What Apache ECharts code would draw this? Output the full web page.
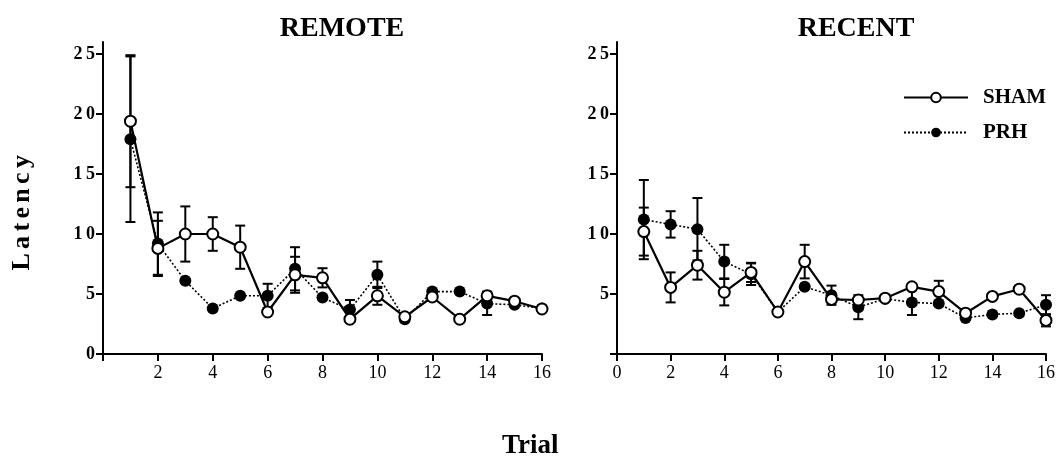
<!DOCTYPE html>
<html>
<head>
<meta charset="utf-8">
<script src="https://cdn.jsdelivr.net/npm/echarts@6/dist/echarts.min.js"></script>
<style>
  html, body { margin: 0; padding: 0; background: #fff; }
  #chart { width: 1059px; height: 466px; }
</style>
</head>
<body>
<div id="chart"></div>
<script>
// trials on the x axis
const trials = [1, 2, 3, 4, 5, 6, 7, 8, 9, 10, 11, 12, 13, 14, 15, 16];

// REMOTE panel (mean latency, s.e.m.)
const remoteSham    = [19.4, 8.8, 10.0, 10.0, 8.9, 3.5, 6.6, 6.35, 2.9, 4.85, 3.1, 4.75, 2.9, 4.85, 4.4, 3.75];
const remoteShamErr = [5.5, 2.3, 2.3, 1.4, 1.8, 0, 1.5, 0.8, 0, 0.75, 0, 0, 0, 0.35, 0, 0];
const remotePrh     = [17.9, 9.2, 6.1, 3.8, 4.85, 4.85, 7.1, 4.7, 3.7, 6.6, 2.9, 5.2, 5.2, 4.2, 4.1, 3.8];
const remotePrhErr  = [6.9, 2.6, 0, 0, 0, 1.0, 1.8, 0, 0.8, 1.1, 0, 0, 0, 0.95, 0, 0];

// RECENT panel
const recentSham    = [10.2, 5.55, 7.4, 5.15, 6.8, 3.5, 7.7, 4.55, 4.5, 4.65, 5.6, 5.2, 3.4, 4.8, 5.4, 2.8];
const recentShamErr = [2.0, 1.25, 1.2, 1.1, 0.8, 0, 1.4, 0, 0, 0, 0, 0.9, 0, 0, 0, 0.5];
const recentPrh     = [11.2, 10.8, 10.4, 7.7, 6.65, 3.5, 5.6, 4.9, 3.9, 4.6, 4.3, 4.2, 3.0, 3.3, 3.4, 4.1];
const recentPrhErr  = [3.3, 1.1, 2.6, 1.4, 0.9, 0, 0, 0.8, 1.0, 0, 1.05, 0, 0, 0, 0, 0.8];

const yTicks = [0, 5, 10, 15, 20, 25];
const panelTitles = ['REMOTE', 'RECENT'];

const serif = '"Liberation Serif", "DejaVu Serif", serif';
const thin = '\u2009';
const hair = '\u200A';

const chart = echarts.init(document.getElementById('chart'));

const pairs = (ys) => trials.map((t, i) => [t, ys[i]]);
const errPairs = (ys, es) => trials.map((t, i) => [t, ys[i], es[i]]);

function renderErr(params, api) {
  const x = api.value(0), y = api.value(1), e = api.value(2);
  if (!e) return null;
  const hi = api.coord([x, y + e]);
  const lo = api.coord([x, y - e]);
  const w = 5;
  const st = { stroke: '#000', lineWidth: 2 };
  return {
    type: 'group',
    children: [
      { type: 'line', shape: { x1: hi[0], y1: hi[1], x2: lo[0], y2: lo[1] }, style: st },
      { type: 'line', shape: { x1: hi[0] - w, y1: hi[1], x2: hi[0] + w, y2: hi[1] }, style: st },
      { type: 'line', shape: { x1: lo[0] - w, y1: lo[1], x2: lo[0] + w, y2: lo[1] }, style: st }
    ]
  };
}

function xAxis(idx) {
  return {
    type: 'value', gridIndex: idx, min: 0, max: 16, interval: 2,
    axisLine: { onZero: false, lineStyle: { color: '#000', width: 2 } },
    axisTick: { length: 7, lineStyle: { color: '#000', width: 2 } },
    splitLine: { show: false },
    axisLabel: {
      color: '#000', fontFamily: serif, fontSize: 18, margin: 10,
      formatter: v => (idx === 0 && v === 0) ? '' : String(v)
    }
  };
}

function yAxis(idx) {
  return {
    type: 'value', gridIndex: idx, min: 0, max: 26,
    axisLine: { onZero: false, lineStyle: { color: '#000', width: 2 } },
    axisTick: { length: 7, customValues: yTicks, lineStyle: { color: '#000', width: 2 } },
    splitLine: { show: false },
    axisLabel: {
      customValues: yTicks,
      color: '#000', fontFamily: serif, fontSize: 18, fontWeight: 'bold', margin: 8,
      formatter: v => (idx === 1 && v === 0) ? '' : String(v).split('').join(thin)
    }
  };
}

function panelSeries(idx, sham, shamErr, prh, prhErr) {
  return [
    {
      type: 'custom', xAxisIndex: idx, yAxisIndex: idx, renderItem: renderErr,
      encode: { x: 0, y: 1 }, data: errPairs(prh, prhErr), z: 1, silent: true
    },
    {
      type: 'custom', xAxisIndex: idx, yAxisIndex: idx, renderItem: renderErr,
      encode: { x: 0, y: 1 }, data: errPairs(sham, shamErr), z: 1, silent: true
    },
    {
      name: 'PRH', type: 'line', xAxisIndex: idx, yAxisIndex: idx, data: pairs(prh),
      symbol: 'circle', symbolSize: 12, z: 2,
      lineStyle: { color: '#000', width: 1.6, type: [2, 2] },
      itemStyle: { color: '#000', borderColor: '#000', borderWidth: 0 }
    },
    {
      name: 'SHAM', type: 'line', xAxisIndex: idx, yAxisIndex: idx, data: pairs(sham),
      symbol: 'circle', symbolSize: 11, z: 3,
      lineStyle: { color: '#000', width: 2.2 },
      itemStyle: { color: '#fff', borderColor: '#000', borderWidth: 2 }
    }
  ];
}

const option = {
  animation: false,
  backgroundColor: '#fff',
  grid: [
    { left: 103, right: 517, top: 42, bottom: 112 },
    { left: 617, right: 13, top: 42, bottom: 112 }
  ],
  xAxis: [xAxis(0), xAxis(1)],
  yAxis: [yAxis(0), yAxis(1)],
  legend: {
    orient: 'vertical', left: 898, top: 82, itemWidth: 64, itemHeight: 12, itemGap: 14,
    data: ['SHAM', 'PRH'],
    textStyle: { fontFamily: serif, fontSize: 21, fontWeight: 'bold', color: '#000', padding: [0, 0, 0, 10] }
  },
  title: [
    { text: panelTitles[0], left: 337, top: 10, textAlign: 'center',
      textStyle: { fontFamily: serif, fontSize: 28, fontWeight: 'bold', color: '#000' } },
    { text: panelTitles[1], left: 851, top: 10, textAlign: 'center',
      textStyle: { fontFamily: serif, fontSize: 28, fontWeight: 'bold', color: '#000' } }
  ],
  graphic: [
    { type: 'text', left: 9, top: 155, rotation: Math.PI / 2,
      style: { text: 'Latency'.split('').join(hair + hair), fontFamily: serif, fontSize: 26, fontWeight: 'bold', fill: '#000' } },
    { type: 'text', left: 502, top: 433,
      style: { text: 'Trial', fontFamily: serif, fontSize: 27, fontWeight: 'bold', fill: '#000' } }
  ],
  series: [
    ...panelSeries(0, remoteSham, remoteShamErr, remotePrh, remotePrhErr),
    ...panelSeries(1, recentSham, recentShamErr, recentPrh, recentPrhErr)
  ]
};

chart.setOption(option);
</script>
</body>
</html>
